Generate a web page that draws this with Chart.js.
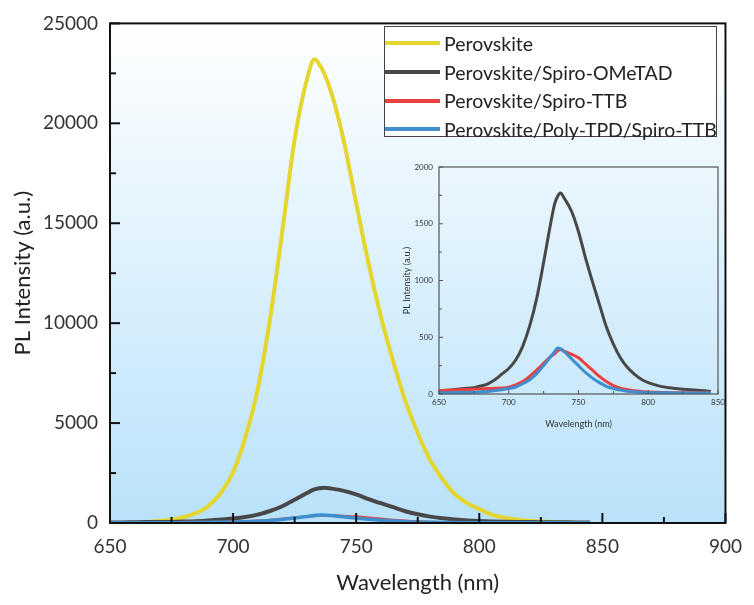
<!DOCTYPE html>
<html lang="en">
<head>
  <meta charset="UTF-8" />
  <title>PL spectra</title>
  <script src="https://cdn.jsdelivr.net/npm/chart.js"></script>
  <style>
    body { margin: 0; background: #fff; font-family: Lato, sans-serif; }
    #wrap { position: relative; width: 754px; height: 605px; }
    #main { position: absolute; left: 0; top: 0; }
    #inset { position: absolute; left: 390px; top: 150px; }
    #legend {
      position: absolute; left: 384px; top: 26px; width: 331px; height: 107px;
      border: 1px solid #444; background: #fff; padding-top: 2px;
    }
    .row { display: flex; align-items: center; height: 28.7px; font-size: 19.5px; color: #222; white-space: nowrap; }
    .sample { width: 55px; height: 4px; margin-right: 4px; flex: none; }
  </style>
</head>
<body>
  <div id="wrap">
    <canvas id="main" width="754" height="605"></canvas>
    <div id="legend"></div>
    <canvas id="inset" width="340" height="290"></canvas>
  </div>

  <script>
    // wavelength grid (nm), shared by all series
    const wavelengths = [650, 655, 660, 665, 670, 675, 680, 685, 690, 695, 700, 705, 710, 715, 720, 725, 730, 733, 735, 737,
                         740, 745, 750, 755, 760, 765, 770, 775, 780, 785, 790, 795, 800, 805, 810, 815, 820, 825, 830, 835, 840, 845];

    const perovskite = [null, null, 20, 50, 100, 170, 300, 500, 850, 1500, 2550, 4300, 6700, 10200, 14600, 19200, 22200, 23200, 22950, 22500,
                        21500, 19100, 16000, 13000, 10350, 8100, 6100, 4500, 3150, 2200, 1450, 1000, 700, 420, 270, 180, 110, 70, 40, 25, 15, 10];
    const spiroOMeTAD = [25, 30, 38, 45, 50, 55, 70, 90, 125, 175, 225, 300, 420, 600, 840, 1160, 1500, 1680, 1740, 1770,
                         1720, 1610, 1430, 1200, 990, 790, 590, 440, 320, 235, 175, 130, 100, 80, 65, 55, 48, 42, 38, 33, 28, 23];
    const spiroTTB = [30, 32, 35, 38, 40, 42, 45, 48, 50, 52, 60, 80, 110, 156, 210, 270, 330, 355, 380, 392,
                      375, 350, 320, 265, 210, 155, 110, 75, 52, 38, 28, 22, 18, 15, 13, 12, 11, 10, 10, 10, 10, 10];
    const polyTPD = [10, 10, 12, 13, 14, 15, 18, 22, 30, 38, 48, 62, 90, 126, 180, 250, 330, 375, 405, 400,
                     370, 310, 250, 190, 140, 100, 68, 48, 35, 25, 20, 15, 12, 10, 10, 10, 9, 9, 8, 8, 8, 8];

    const seriesNames = ['Perovskite', 'Perovskite/Spiro-OMeTAD', 'Perovskite/Spiro-TTB', 'Perovskite/Poly-TPD/Spiro-TTB'];
    const seriesValues = [perovskite, spiroOMeTAD, spiroTTB, polyTPD];

    // axis ticks
    const mainXTicks = [650, 700, 750, 800, 850, 900];
    const mainYTicks = [0, 5000, 10000, 15000, 20000, 25000];
    const insetXTicks = [650, 700, 750, 800, 850];
    const insetYTicks = [0, 500, 1000, 1500, 2000];

    const colors = ['#e4d62f', '#484848', '#e8413f', '#3d8fcf'];
    const widths = [4, 4, 2.5, 3.5];
    const FONT = 'Lato, "Open Sans", sans-serif';

    const toPoints = vals => wavelengths.map((w, i) => ({ x: w, y: vals[i] }));

    // inward ticks, frame box and gradient background
    function frameTicks(cfg) {
      return {
        id: 'frameTicks',
        beforeDraw(chart) {
          if (!cfg.gradient) return;
          const { ctx, chartArea: a } = chart;
          const g = ctx.createLinearGradient(0, a.top, 0, a.bottom);
          g.addColorStop(0, '#ffffff');
          g.addColorStop(1, '#b9e2fa');
          ctx.save();
          ctx.fillStyle = g;
          ctx.fillRect(a.left, a.top, a.width, a.height);
          ctx.restore();
        },
        afterDraw(chart) {
          const { ctx, chartArea: a } = chart;
          const x = chart.scales.x, y = chart.scales.y;
          ctx.save();
          ctx.strokeStyle = cfg.color;
          ctx.lineWidth = cfg.frameWidth;
          ctx.strokeRect(a.left, a.top, a.width, a.height);
          ctx.lineWidth = cfg.tickWidth;
          for (let v = x.min; v <= x.max; v += cfg.xMinor) {
            const px = x.getPixelForValue(v);
            const len = (v - x.min) % cfg.xMajor === 0 ? cfg.majorLen : cfg.minorLen;
            ctx.beginPath();
            ctx.moveTo(px, a.bottom);
            ctx.lineTo(px, a.bottom - len);
            ctx.stroke();
          }
          for (let v = y.min; v <= y.max; v += cfg.yMinor) {
            const py = y.getPixelForValue(v);
            const len = (v - y.min) % cfg.yMajor === 0 ? cfg.majorLen : cfg.minorLen;
            ctx.beginPath();
            ctx.moveTo(a.left, py);
            ctx.lineTo(a.left + len, py);
            ctx.stroke();
          }
          ctx.restore();
        }
      };
    }

    function makeDatasets(idx, lw) {
      return idx.map(i => ({
        label: seriesNames[i],
        data: toPoints(seriesValues[i]),
        borderColor: colors[i],
        borderWidth: lw || widths[i],
        pointRadius: 0,
        cubicInterpolationMode: 'monotone',
        order: 4 - i
      }));
    }

    const plain = v => String(v);

    new Chart(document.getElementById('main'), {
      type: 'line',
      data: { datasets: makeDatasets([0, 1, 2, 3]) },
      plugins: [frameTicks({ gradient: true, color: '#111', tickWidth: 2, frameWidth: 2,
                             xMajor: 50, xMinor: 25, yMajor: 5000, yMinor: 2500, majorLen: 10, minorLen: 6 })],
      options: {
        responsive: false,
        animation: false,
        devicePixelRatio: 1,
        layout: { padding: { top: 18, right: 19, left: 0, bottom: 0 } },
        plugins: { legend: { display: false }, tooltip: { enabled: false } },
        scales: {
          x: {
            type: 'linear', min: 650, max: 900,
            afterFit: s => { s.height = 82; },
            afterBuildTicks: s => { s.ticks = mainXTicks.map(v => ({ value: v })); },
            grid: { display: false, drawTicks: false },
            border: { display: false },
            ticks: { autoSkip: false, maxRotation: 0, padding: 12, color: '#333', callback: plain,
                     font: { family: FONT, size: 19 } },
            title: { display: true, text: 'Wavelength (nm)', color: '#222', padding: { bottom: 9 },
                     font: { family: FONT, size: 22 } }
          },
          y: {
            type: 'linear', min: 0, max: 25000,
            afterFit: s => { s.width = 110; },
            afterBuildTicks: s => { s.ticks = mainYTicks.map(v => ({ value: v })); },
            grid: { display: false, drawTicks: false },
            border: { display: false },
            ticks: { padding: 12, color: '#333', callback: plain, font: { family: FONT, size: 19 } },
            title: { display: true, text: 'PL Intensity (a.u.)', color: '#222', padding: { top: 10 },
                     font: { family: FONT, size: 22 } }
          }
        }
      }
    });

    new Chart(document.getElementById('inset'), {
      type: 'line',
      data: { datasets: makeDatasets([1, 2, 3], 3) },
      plugins: [frameTicks({ gradient: false, color: '#555', tickWidth: 1, frameWidth: 1.2,
                             xMajor: 50, xMinor: 25, yMajor: 500, yMinor: 250, majorLen: 4, minorLen: 3 })],
      options: {
        responsive: false,
        animation: false,
        devicePixelRatio: 1,
        layout: { padding: { top: 17, right: 12, left: 0, bottom: 0 } },
        plugins: { legend: { display: false }, tooltip: { enabled: false } },
        scales: {
          x: {
            type: 'linear', min: 650, max: 850,
            afterFit: s => { s.height = 46; },
            afterBuildTicks: s => { s.ticks = insetXTicks.map(v => ({ value: v })); },
            grid: { display: false, drawTicks: false },
            border: { display: false },
            ticks: { autoSkip: false, maxRotation: 0, padding: 4, color: '#333', callback: plain,
                     font: { family: FONT, size: 8 } },
            title: { display: true, text: 'Wavelength (nm)', color: '#333', padding: { bottom: 11 },
                     font: { family: FONT, size: 9 } }
          },
          y: {
            type: 'linear', min: 0, max: 2000,
            afterFit: s => { s.width = 49; },
            afterBuildTicks: s => { s.ticks = insetYTicks.map(v => ({ value: v })); },
            grid: { display: false, drawTicks: false },
            border: { display: false },
            ticks: { padding: 6, color: '#333', callback: plain, font: { family: FONT, size: 8 } },
            title: { display: true, text: 'PL Intensity (a.u.)', color: '#333', padding: { top: 12 },
                     font: { family: FONT, size: 9 } }
          }
        }
      }
    });

    // legend box
    const legend = document.getElementById('legend');
    seriesNames.forEach((name, i) => {
      const row = document.createElement('div');
      row.className = 'row';
      row.innerHTML = `<span class="sample" style="background:${colors[i]}"></span><span>${name}</span>`;
      legend.appendChild(row);
    });
  </script>
</body>
</html>
